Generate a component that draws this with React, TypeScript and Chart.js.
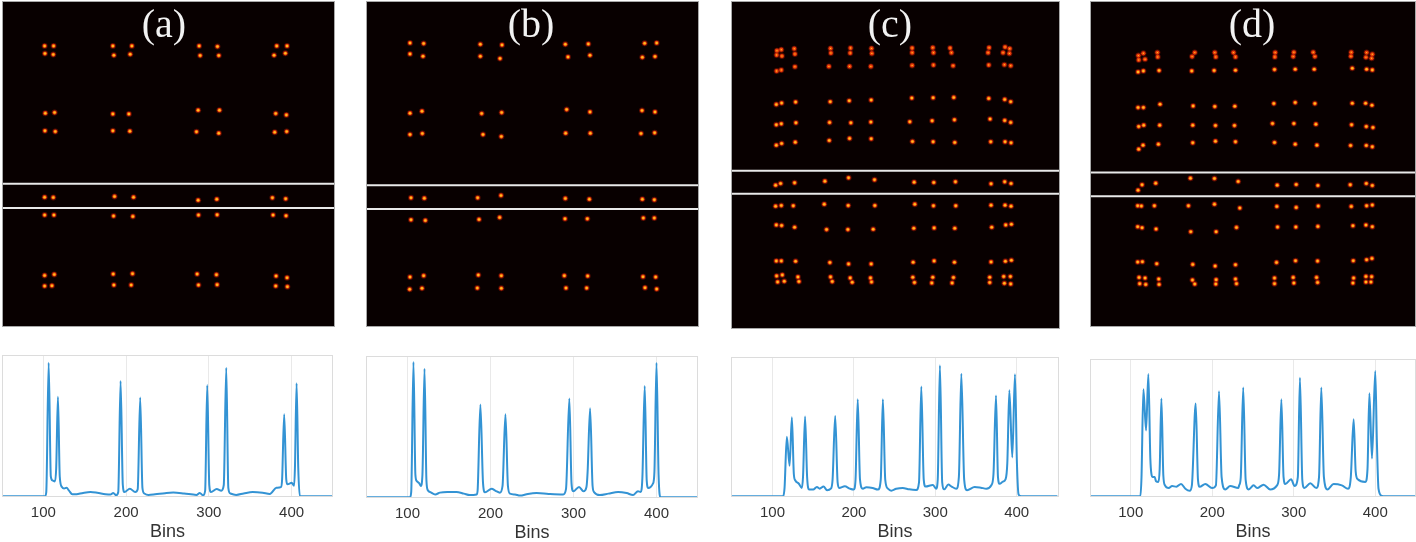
import React, { useEffect, useRef } from "react";
import { Chart, registerables } from "chart.js";

Chart.register(...registerables);

type P = [number, number];

/* ---------- Line traces: [bin, counts %] ---------- */
const tickBins = [100, 200, 300, 400];

const traceA: P[] = [[50,0],[102,0],[103.5,3],[106.4,94.6],[109,14],[111,11.3],[114,10.5],[115.5,20],[117.6,70.4],[119.8,14],[122.4,6.6],[125,5.5],[128,6],[131,4],[135,1.4],[140,1.5],[148,2.4],[157,3],[165,2.5],[175,1.5],[181,1.2],[184.5,2.4],[188,0.7],[190.5,3],[193.3,81.6],[196,8],[198,3],[204.5,5.4],[211,3],[214,5],[217,70],[219.7,6],[222,2],[227,1],[235,1.4],[247,2.2],[257,2.6],[270,2],[285,1],[289,2.4],[293,0.7],[295.5,4],[298,78.7],[300.5,8],[302.6,3],[309.5,5.2],[315,4],[318,8],[321,91],[323.5,6],[326,2],[333,1],[342,2],[353,3],[365,2.5],[373.6,1.7],[381.6,6],[387,6.5],[388.5,12],[391,58],[393.5,12],[395,8.5],[400,9.5],[403,7.5],[404,20],[406,80],[408,20],[410,0],[450,0]];

const traceB: P[] = [[50,0],[103,0],[104.5,4],[107.2,95.7],[109.5,16],[111,11.6],[114,10],[116,8],[118,16],[120.5,91],[122.8,12],[124.5,5],[128,3.5],[133.4,2],[139,3.3],[148,3.8],[159,3.8],[168,2.6],[175,1.6],[183.4,2],[184.5,5],[187.8,65.6],[191,10],[193.4,3.5],[201.4,6],[206,4.6],[211.4,3.3],[214.5,8],[218,58.7],[221,8],[223.5,2.6],[229.5,2],[235.5,1.2],[245,2.4],[255.5,3],[270,2.4],[287.6,2],[291,6],[295,70],[297.6,10],[299.7,4.2],[306.7,7.3],[312,4.2],[315.6,7.3],[317,18],[320,63],[323,8],[325,3.5],[331.6,1.6],[342,2.6],[353.7,3.8],[364,3],[371.7,1.6],[377.7,4.2],[381,3.8],[383,14],[385.8,78.8],[388.2,12],[390,6.6],[395.7,9.7],[397.5,18],[400,95.3],[402.5,16],[405,0],[450,0]];

const traceC: P[] = [[50,0],[113,0],[114.8,6],[117.6,42.8],[121,21.9],[123.8,56.7],[126.2,16],[127.9,11.5],[132.4,9],[136,6],[137.5,14],[140,57.2],[142.5,14],[145,4.8],[150,4.8],[154.5,6.7],[158,5.5],[162.7,7],[167,4.4],[171.6,5.5],[173.8,12],[177,57.7],[180,10],[181.9,6],[188.8,7.2],[195,5.5],[199.8,4.8],[202,12],[204.7,69.7],[207.5,12],[211,5.5],[215.3,6.5],[223,6],[229.5,4.8],[233,12],[235.6,69.7],[238.5,12],[241.8,5.5],[245.9,4],[252,5.4],[260,6],[268,5],[276.6,4.6],[280,10],[282.8,78.8],[285.8,12],[288,7],[297,8.2],[301,5.5],[303,12],[305.7,94],[308.5,10],[311,5],[316,8.4],[320,7],[325.8,5.5],[329,14],[332,88],[335.5,12],[339,4.4],[348.4,6.7],[356,6.2],[362.7,5.5],[368.9,8],[371.5,16],[374.6,72.4],[377,14],[379,9],[383,10.5],[386.4,12.3],[388.5,24],[391,76.2],[394.6,27.9],[397.9,87.7],[400.3,24],[402.4,1.2],[405.7,0],[450,0]];

const traceD: P[] = [[50,0],[111.8,0],[113.2,14],[115.5,78],[118.8,48],[121.6,89],[124,28],[125.3,16.5],[127,14],[129.4,14],[131,11],[133.9,10.5],[135.5,20],[137.6,71.3],[140,15],[142,8],[146.6,6],[150.7,7.5],[156,7],[161.7,9],[167,5.5],[172.3,4],[175,8],[179.7,67.6],[182.5,12],[184.6,7],[191.5,9],[199.7,6],[204.5,8],[208.3,76.6],[211.5,14],[216,5],[222,7.5],[232,6],[233,8],[235,14],[238,79.3],[241,12],[244.7,5],[250.8,8],[255,6],[263,8.5],[271,5],[279.5,8],[282,16],[284.8,70.6],[287.5,14],[289.7,9],[296.7,12.4],[301,7.5],[305,14],[307.6,86.4],[310.5,12],[313,6],[320.3,9.5],[327.6,6],[331,14],[333.8,79.3],[337,14],[341.5,5],[348.9,9],[359,8],[366.6,5.5],[370,14],[373.5,56.2],[376,18],[378.5,12.4],[387.9,10.5],[390.5,20],[392.8,75],[396,27.5],[400,91.2],[402,40],[404,5.5],[408,0.3],[412,0],[450,0]];

/* ---------- Heat map spots: [x, y] in the panel's own read-off grid ---------- */
const spotsA: P[] = [
  [133,138],[160,138],[134,161],[159,164],[338,138],[395,138],[341,166],[390,163],[597,138],[652,140],[600,167],[656,167],[830,138],[861,138],[822,166],[856,160],
  [135,340],[163,338],[134,393],[165,395],[338,342],[386,342],[338,393],[389,394],[594,331],[658,331],[589,396],[656,400],[827,341],[859,345],[824,397],[860,395],
  [133,592],[159,593],[343,590],[400,592],[594,601],[650,598],[817,594],[857,597],
  [133,646],[161,646],[340,649],[398,650],[595,646],[651,645],[819,646],[858,648],
  [133,827],[162,824],[339,823],[397,822],[591,823],[649,825],[828,829],[861,834],
  [133,859],[155,858],[341,856],[393,856],[595,856],[651,855],[827,859],[862,861],
];
const spotsB: P[] = [
  [149,129],[190,131],[149,162],[188,169],[360,133],[425,135],[360,169],[419,176],[615,133],[684,132],[623,171],[689,166],[853,130],[889,129],[846,172],[884,170],
  [149,340],[185,334],[149,404],[186,401],[364,341],[424,338],[368,404],[423,410],[619,329],[689,336],[616,400],[690,400],[845,332],[884,336],[842,401],[883,399],
  [152,594],[192,595],[352,594],[422,587],[615,596],[687,598],[846,598],[882,600],
  [152,660],[195,662],[356,659],[418,653],[614,657],[681,657],[849,655],[882,655],
  [149,832],[190,828],[354,826],[423,828],[612,828],[682,829],[848,831],[886,832],
  [148,869],[185,866],[351,865],[423,866],[617,865],[679,865],[854,864],[889,868],
];
const spotsC: P[] = [
  [155,152],[168,149],[207,146],[154,165],[170,168],[209,162],[316,145],[317,159],[376,144],[375,159],[439,145],[440,160],[561,144],[561,158],[623,143],[625,158],[675,144],[679,158],[792,143],[789,158],[840,141],[854,146],[834,158],[853,160],
  [154,213],[168,210],[209,200],[311,199],[373,199],[437,199],[561,196],[625,195],[684,197],[791,195],[838,194],[857,197],
  [153,313],[169,309],[211,306],[315,305],[372,302],[438,300],[560,294],[624,293],[686,292],[791,295],[839,298],[857,305],
  [153,374],[168,371],[212,368],[313,367],[377,368],[437,366],[554,365],[621,362],[688,359],[795,357],[839,361],[857,367],
  [153,435],[169,430],[210,426],[312,421],[373,415],[438,416],[562,424],[624,425],[689,427],[797,425],[840,425],[858,428],
  [151,555],[166,550],[208,548],[299,543],[370,533],[448,539],[567,546],[626,547],[691,545],[798,551],[839,545],[858,550],
  [151,618],[168,616],[204,617],[297,612],[369,616],[449,616],[569,612],[625,617],[692,617],[798,615],[840,615],[858,618],
  [153,674],[169,676],[208,681],[304,688],[368,688],[444,687],[566,684],[627,683],[689,684],[800,681],[842,674],[859,672],
  [153,782],[168,782],[211,783],[314,787],[370,791],[438,791],[564,786],[627,782],[688,786],[798,785],[841,783],[859,780],
  [154,827],[171,824],[218,830],[316,830],[375,833],[436,833],[563,831],[623,831],[685,832],[794,831],[836,829],[856,829],
  [157,845],[177,843],[221,844],[321,844],[381,846],[439,845],[568,847],[620,848],[681,848],[794,847],[838,849],[857,851],
];
const spotsD: P[] = [
  [176,167],[191,160],[233,158],[177,180],[196,178],[234,171],[345,158],[337,170],[405,158],[408,171],[461,158],[467,171],[586,158],[585,171],[642,157],[640,170],[700,157],[705,170],[814,157],[813,169],[860,158],[877,163],[858,172],[875,175],
  [175,216],[191,213],[238,212],[336,213],[403,212],[467,211],[584,209],[646,208],[703,208],[817,205],[860,208],[877,210],
  [175,323],[191,323],[241,313],[340,318],[405,320],[465,319],[582,311],[646,308],[705,311],[817,310],[857,310],[876,316],
  [177,380],[192,376],[240,376],[339,376],[407,377],[464,377],[578,371],[642,371],[708,373],[815,375],[859,380],[879,383],
  [177,448],[190,436],[236,433],[339,429],[407,424],[467,426],[584,428],[646,433],[711,436],[812,437],[859,437],[877,441],
  [175,571],[187,555],[228,550],[332,535],[404,536],[475,545],[592,556],[649,554],[714,557],[811,555],[859,551],[877,557],
  [174,618],[185,619],[224,618],[326,618],[404,613],[480,625],[591,620],[649,623],[715,619],[814,620],[860,618],[877,616],
  [174,681],[187,684],[229,688],[333,696],[409,696],[470,683],[593,682],[648,682],[714,680],[819,678],[858,676],[877,681],
  [174,787],[188,786],[231,792],[339,794],[406,799],[467,795],[590,788],[647,783],[713,784],[820,783],[860,780],[876,776],
  [178,833],[196,835],[237,838],[338,841],[409,840],[467,838],[584,835],[640,833],[710,833],[821,835],[858,830],[875,831],
  [180,852],[198,854],[238,854],[345,853],[408,853],[470,852],[584,852],[642,850],[713,848],[819,850],[858,847],[873,847],
];

const panelLabels = ["(a)", "(b)", "(c)", "(d)"];
const bandA = [552, 625];
const bandB = [556, 628];
const bandC = [512, 581];
const bandD = [518, 589];

/* ---------- Layout of the panels ---------- */
const heatPanels = [
  { spots: spotsA, band: bandA, dim: 0, left: 2, top: 1, width: 333, height: 326, x: [5, 1005], y: [3, 982], labelX: 164 },
  { spots: spotsB, band: bandB, dim: 0, left: 366, top: 1, width: 333, height: 326, x: [17, 1016], y: [3, 982], labelX: 531 },
  { spots: spotsC, band: bandC, dim: 36, left: 731, top: 1, width: 329, height: 328, x: [17, 1005], y: [3, 986], labelX: 890 },
  { spots: spotsD, band: bandD, dim: 24, left: 1090, top: 1, width: 326, height: 326, x: [31, 1008], y: [3, 982], labelX: 1252 },
];
const linePanels = [
  { trace: traceA, left: 2, top: 355, width: 331, plotH: 142, range: [50, 450] },
  { trace: traceB, left: 366, top: 356, width: 332, plotH: 142, range: [50, 450] },
  { trace: traceC, left: 731, top: 357, width: 328, plotH: 140, range: [49, 452] },
  { trace: traceD, left: 1090, top: 359, width: 326, plotH: 138, range: [50, 450] },
];

const toXY = (p: P[]) => p.map(([x, y]) => ({ x, y }));

const framePlugin = (stroke: string, fill?: string) => ({
  id: "frame",
  beforeDraw(c: any) {
    if (!fill) return;
    const a = c.chartArea;
    c.ctx.save();
    c.ctx.fillStyle = fill;
    c.ctx.fillRect(a.left, a.top, a.right - a.left, a.bottom - a.top);
    c.ctx.restore();
  },
  afterDatasetsDraw(c: any) {
    const a = c.chartArea;
    c.ctx.save();
    c.ctx.strokeStyle = stroke;
    c.ctx.lineWidth = 1;
    c.ctx.strokeRect(a.left + 0.5, a.top + 0.5, a.right - a.left - 1, a.bottom - a.top - 1);
    c.ctx.restore();
  },
});

function HeatPanel({ p }: { p: (typeof heatPanels)[number] }) {
  const ref = useRef<HTMLCanvasElement>(null);
  useEffect(() => {
    const data = toXY(p.spots);
    const spot = (r: any, color: string, order: number) => ({
      type: "scatter" as const,
      data,
      order,
      pointRadius: r,
      pointBorderWidth: 0,
      pointBackgroundColor: color,
    });
    const bandLine = (y: number) => ({
      type: "scatter" as const,
      data: [{ x: p.x[0], y }, { x: p.x[1], y }],
      showLine: true,
      borderColor: "#e8e8e8",
      borderWidth: 2,
      pointRadius: 0,
      order: -1,
    });
    const chart = new Chart(ref.current!, {
      type: "scatter",
      data: {
        datasets: [
          spot(3, "rgba(150,20,0,0.55)", 3),
          spot(2.1, "#ea3c0a", 2),
          spot((c: any) => (c.dataIndex < p.dim ? 0.7 : 1.25), "#ffbe1c", 1),
          ...p.band.map(bandLine),
        ] as any,
      },
      options: {
        animation: false,
        responsive: false,
        events: [],
        layout: { padding: 0, autoPadding: false },
        plugins: { legend: { display: false }, tooltip: { enabled: false } },
        scales: {
          x: { type: "linear", display: false, min: p.x[0], max: p.x[1] },
          y: { type: "linear", display: false, reverse: true, min: p.y[0], max: p.y[1] },
        },
      },
      plugins: [framePlugin("#a8a8a8", "#080000")],
    } as any);
    return () => chart.destroy();
  }, [p]);
  return (
    <canvas
      ref={ref}
      width={p.width}
      height={p.height}
      style={{ position: "absolute", left: p.left, top: p.top, width: p.width, height: p.height, filter: "blur(0.4px)" }}
    />
  );
}

const PAD = 2;
const AXIS_H = 46;

function LinePanel({ p }: { p: (typeof linePanels)[number] }) {
  const ref = useRef<HTMLCanvasElement>(null);
  const w = p.width + PAD * 2;
  const h = p.plotH + PAD + AXIS_H;
  useEffect(() => {
    const chart = new Chart(ref.current!, {
      type: "line",
      data: {
        datasets: [
          {
            data: toXY(p.trace),
            borderColor: "#3393d4",
            borderWidth: 2,
            pointRadius: 0,
            cubicInterpolationMode: "monotone",
          },
        ],
      },
      options: {
        animation: false,
        responsive: false,
        events: [],
        layout: { padding: { left: PAD, right: PAD, top: PAD, bottom: 0 }, autoPadding: false },
        plugins: { legend: { display: false }, tooltip: { enabled: false } },
        scales: {
          x: {
            type: "linear",
            min: p.range[0],
            max: p.range[1],
            afterBuildTicks: (s: any) => {
              s.ticks = tickBins.map((value) => ({ value }));
            },
            afterFit: (s: any) => {
              s.height = AXIS_H;
            },
            grid: { color: "#e9e9e9", lineWidth: 1, drawTicks: false },
            border: { display: false },
            ticks: {
              autoSkip: false,
              maxRotation: 0,
              padding: 7,
              color: "#333333",
              font: { family: "'Liberation Sans'", size: 15 },
            },
            title: {
              display: true,
              text: "Bins",
              color: "#333333",
              font: { family: "'Liberation Sans'", size: 18 },
              padding: { top: 3, bottom: 0 },
            },
          },
          y: { type: "linear", display: false, min: -0.5, max: 100 },
        },
      },
      plugins: [framePlugin("#dcdcdc")],
    } as any);
    return () => chart.destroy();
  }, [p]);
  return (
    <canvas
      ref={ref}
      width={w}
      height={h}
      style={{ position: "absolute", left: p.left - PAD, top: p.top - PAD, width: w, height: h, filter: "blur(0.5px)" }}
    />
  );
}

export default function App() {
  return (
    <div style={{ position: "absolute", left: 0, top: 0, width: 1416, height: 542, overflow: "hidden", background: "#fff" }}>
      {heatPanels.map((p, i) => (
        <HeatPanel key={i} p={p} />
      ))}
      {linePanels.map((p, i) => (
        <LinePanel key={i} p={p} />
      ))}
      {heatPanels.map((p, i) => (
        <div
          key={i}
          style={{
            position: "absolute",
            left: p.labelX,
            top: 2,
            transform: "translateX(-50%)",
            color: "#f2f2f2",
            fontFamily: "'Liberation Serif', serif",
            fontSize: 40,
            lineHeight: "44px",
          }}
        >
          {panelLabels[i]}
        </div>
      ))}
    </div>
  );
}
